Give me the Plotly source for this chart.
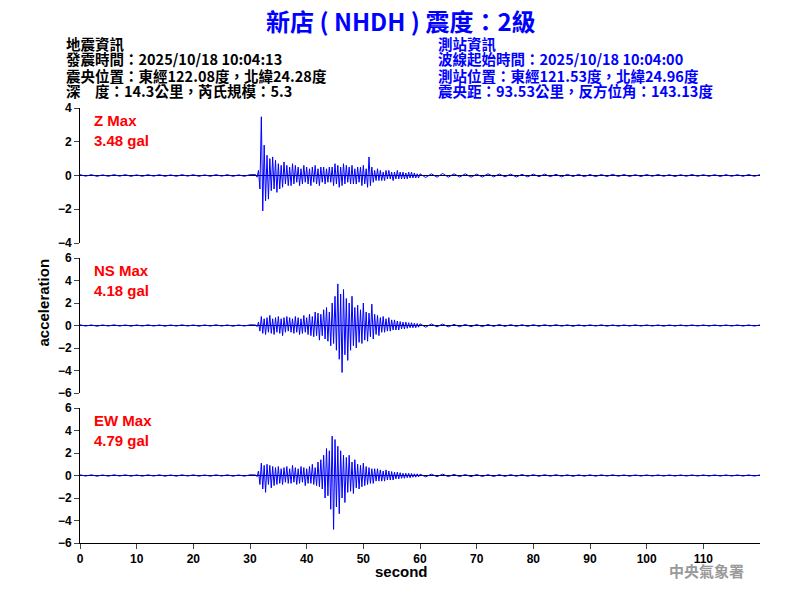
import numpy as np
import plotly.graph_objects as go

pre_z = [0.05,-0.04,0.05,-0.05,0.04,-0.05,0.05,-0.04,0.05,-0.05,0.04,-0.05,0.05,-0.04,0.05,-0.05,0.04,-0.05,0.05,-0.04,0.05,-0.05,0.04,-0.05,0.05,-0.04,0.05,-0.05,0.04,-0.05,0.05]
act_z = [0.05,-0.1,0.3,-0.8,3.48,-2.1,1.8,-1.5,1.2,-1.4,1.0,-0.9,1.1,-0.8,0.9,-1.0,0.7,-0.8,0.6,-0.7,0.8,-0.5,0.6,-0.6,0.5,-0.6,0.7,-0.5,0.6,-0.4,0.5,-0.6,0.4,-0.5,0.6,-0.4,0.5,-0.5,0.4,-0.6,0.5,-0.4,0.6,-0.5,0.4,-0.6,0.5,-0.4,0.5,-0.5,0.4,-0.4,0.5,-0.4,0.5,-0.6,0.7,-0.5,0.6,-0.7,0.5,-0.6,0.7,-0.5,0.6,-0.4,0.5,-0.5,0.6,-0.5,0.4,-0.5,0.5,-0.4,0.5,-0.6,0.6,-0.5,0.4,-0.7,1.1,-0.6,0.5,-0.4,0.3,-0.3,0.4,-0.3,0.3,-0.3,0.2,-0.3,0.3,-0.2,0.3,-0.2,0.2,-0.3,0.2,-0.2,0.3,-0.2,0.2,-0.2,0.2,-0.2,0.15,-0.2,0.2,-0.15,0.2,-0.15,0.15,-0.15,0.1,-0.15,0.1]
post_z = [-0.12,0.1,-0.1,0.12,-0.1,0.1,-0.09,0.1,-0.1,0.08,-0.09,0.1,-0.08,0.09,-0.08,0.08,-0.09,0.07,-0.08,0.08,-0.07,0.08,-0.07,0.07,-0.08,0.07,-0.06,0.07,-0.07,0.06,-0.07,0.06,-0.06,0.07,-0.06,0.06,-0.06,0.05,-0.06,0.06,-0.05,0.06,-0.05,0.05,-0.06,0.05,-0.05,0.06,-0.05,0.05,-0.05,0.05,-0.06,0.05,-0.05,0.05,-0.05,0.06,-0.05,0.05]

pre_ns = [0.06,-0.05,0.05,-0.06,0.05,-0.05,0.06,-0.05,0.05,-0.06,0.05,-0.05,0.06,-0.05,0.05,-0.06,0.05,-0.05,0.06,-0.05,0.05,-0.06,0.05,-0.05,0.06,-0.05,0.05,-0.06,0.05,-0.05,0.06]
act_ns = [0.05,-0.1,0.3,-0.5,0.8,-0.7,0.6,-0.8,0.7,-0.6,0.9,-0.7,0.6,-0.8,0.7,-0.6,0.8,-0.7,0.6,-0.9,0.7,-0.6,0.8,-0.5,0.7,-0.6,0.6,-0.7,0.8,-0.6,0.7,-0.8,0.6,-0.7,0.9,-0.6,0.7,-0.8,1.0,-0.9,0.8,-1.0,1.2,-0.9,1.1,-1.3,1.0,-0.9,1.4,-1.2,1.6,-1.4,1.2,-1.8,2.0,-1.6,2.6,-2.2,3.7,-3.0,2.8,-4.18,3.2,-2.6,2.4,-3.1,2.0,-2.2,2.6,-1.8,1.6,-2.0,1.8,-1.5,1.4,-1.6,2.0,-1.3,1.2,-1.4,1.1,-1.0,1.9,-1.2,1.0,-0.8,0.9,-0.9,0.7,-0.6,0.8,-0.6,0.6,-0.5,0.7,-0.5,0.5,-0.4,0.5,-0.4,0.4,-0.4,0.35,-0.3,0.3,-0.3,0.3,-0.25,0.25,-0.2,0.25,-0.2,0.2,-0.2,0.18,-0.15,0.15]
post_ns = [-0.15,0.14,-0.12,0.13,-0.12,0.1,-0.11,0.1,-0.1,0.09,-0.1,0.09,-0.08,0.09,-0.08,0.08,-0.08,0.07,-0.08,0.07,-0.07,0.07,-0.06,0.07,-0.06,0.06,-0.07,0.06,-0.06,0.06,-0.05,0.06,-0.06,0.05,-0.06,0.05,-0.05,0.06,-0.05,0.05,-0.05,0.05,-0.06,0.05,-0.05,0.05,-0.05,0.05,-0.05,0.05,-0.05,0.05,-0.05,0.05,-0.05,0.05,-0.05,0.05,-0.05,0.05]

pre_ew = [0.06,-0.05,0.06,-0.06,0.05,-0.06,0.06,-0.05,0.06,-0.06,0.05,-0.06,0.06,-0.05,0.06,-0.06,0.05,-0.06,0.06,-0.05,0.06,-0.06,0.05,-0.06,0.06,-0.05,0.06,-0.06,0.05,-0.06,0.06]
act_ew = [0.05,-0.1,0.4,-0.8,1.1,-1.2,0.9,-1.5,1.0,-0.8,0.9,-1.1,0.8,-0.9,0.7,-0.8,0.8,-0.7,0.6,-0.8,0.7,-0.6,0.8,-0.7,0.6,-0.7,0.9,-0.6,0.7,-0.8,0.6,-0.7,0.8,-0.6,0.7,-0.9,0.6,-0.7,0.8,-0.7,1.0,-0.8,0.7,-0.9,1.2,-1.0,1.4,-1.2,1.8,-2.0,2.4,-1.8,2.2,-3.0,3.5,-4.79,3.2,-2.8,2.6,-3.4,2.2,-2.0,1.8,-2.4,1.6,-1.5,1.8,-1.4,1.2,-1.6,1.4,-1.1,1.0,-1.2,0.9,-1.0,1.1,-0.9,0.8,-0.8,0.7,-0.7,0.6,-0.7,0.6,-0.5,0.6,-0.5,0.5,-0.5,0.4,-0.5,0.5,-0.4,0.4,-0.4,0.35,-0.4,0.3,-0.3,0.3,-0.3,0.25,-0.25,0.2,-0.25,0.2,-0.2,0.2,-0.2,0.18,-0.15,0.15,-0.15,0.15,-0.12,0.12]
post_ew = [-0.12,0.12,-0.1,0.12,-0.1,0.1,-0.1,0.09,-0.1,0.09,-0.09,0.08,-0.09,0.08,-0.08,0.08,-0.07,0.08,-0.07,0.07,-0.07,0.07,-0.06,0.07,-0.06,0.06,-0.07,0.06,-0.06,0.06,-0.06,0.06,-0.05,0.06,-0.05,0.05,-0.06,0.05,-0.05,0.05,-0.05,0.05,-0.05,0.05,-0.05,0.05,-0.05,0.05,-0.05,0.05,-0.05,0.05,-0.05,0.05,-0.05,0.05,-0.05,0.05,-0.05,0.05]

channels = ["Z", "NS", "EW"]
max_vals = [3.48, 4.18, 4.79]
y_ranges = [4, 6, 6]
x_ticks = list(range(0, 120, 10))
data = [(pre_z, act_z, post_z), (pre_ns, act_ns, post_ns), (pre_ew, act_ew, post_ew)]
left_info = ["地震資訊", "發震時間：2025/10/18 10:04:13", "震央位置：東經122.08度，北緯24.28度", "深　度：14.3公里，芮氏規模：5.3"]
right_info = ["測站資訊", "波線起始時間：2025/10/18 10:04:00", "測站位置：東經121.53度，北緯24.96度", "震央距：93.53公里，反方位角：143.13度"]

def series(pre, act, post):
    t = np.concatenate([np.arange(len(pre)) * 1.0, 31 + 0.25 * np.arange(len(act)), 61 + np.arange(len(post)) * 1.0])
    return t, np.array(pre + act + post)

# page has an 8px body margin; convert screen pixels to paper coords
def px(x): return (x - 8) / 800
def py(y): return 1 - (y - 8) / 600

fig = go.Figure()
panel_px = [(108, 243), (258, 393), (408, 543)]
fnt = dict(family="Liberation Sans, Arial", size=12, color="black", weight="bold")
for i, (ch, mv, yr, d) in enumerate(zip(channels, max_vals, y_ranges, data)):
    t, v = series(*d)
    n = "" if i == 0 else str(i + 1)
    top, bot = panel_px[i]
    fig.add_trace(go.Scatter(x=t, y=v, mode="lines", line=dict(color="blue", width=1), xaxis="x" + n, yaxis="y" + n, showlegend=False))
    fig.add_shape(type="line", x0=0, x1=120, y0=0, y1=0, xref="x" + n, yref="y" + n, line=dict(color="black", width=1), layer="below")
    fig.update_layout(**{
        "xaxis" + n: dict(domain=[px(80), px(760)], range=[0, 120], anchor="y" + n, showgrid=False, zeroline=False, automargin=False,
                          showticklabels=(i == 2), showline=(i == 2), linecolor="black", ticks="outside" if i == 2 else "",
                          tickvals=x_ticks, tickfont=fnt, matches="x" if i else None),
        "yaxis" + n: dict(domain=[py(bot), py(top)], range=[-yr, yr], dtick=2, anchor="x" + n, showgrid=False, zeroline=False,
                          automargin=False, showline=True, linecolor="black", ticks="outside", tickfont=fnt),
    })
    fig.add_annotation(x=px(92), y=py(top + 2), xref="paper", yref="paper", xanchor="left", yanchor="top", align="left",
                       text=f"<b>{ch} Max<br>{mv} gal</b>", showarrow=False, font=dict(family="Liberation Sans, Arial", size=15, color="red"))

cjk = "Noto Sans CJK TC"
fig.add_annotation(x=px(401), y=py(20), xref="paper", yref="paper", yanchor="middle", showarrow=False,
                   text="<b>新店 ( NHDH ) 震度：2級</b>", font=dict(family=cjk, size=24, color="blue"))
for k, (lt, rt) in enumerate(zip(left_info, right_info)):
    yy = py(43 + 16 * k)
    fig.add_annotation(x=px(64), y=yy, xref="paper", yref="paper", xanchor="left", yanchor="middle", showarrow=False,
                       text=lt, font=dict(family=cjk, size=14.5, color="black", weight="bold"))
    fig.add_annotation(x=px(436), y=yy, xref="paper", yref="paper", xanchor="left", yanchor="middle", showarrow=False,
                       text=rt, font=dict(family=cjk, size=14.5, color="blue", weight="bold"))
fig.add_annotation(x=px(32), y=py(303), xref="paper", yref="paper", textangle=-90, showarrow=False,
                   text="<b>acceleration</b>", font=dict(family="Liberation Sans, Arial", size=15, color="black"))
fig.add_annotation(x=px(401), y=py(582), xref="paper", yref="paper", showarrow=False,
                   text="<b>second</b>", font=dict(family="Liberation Sans, Arial", size=15, color="black"))
fig.add_annotation(x=px(746), y=py(583), xref="paper", yref="paper", xanchor="right", showarrow=False,
                   text="<b>中央氣象署</b>", font=dict(family=cjk, size=15, color="#999999"))

fig.update_layout(width=800, height=600, margin=dict(l=0, r=0, t=0, b=0), plot_bgcolor="white", paper_bgcolor="white")
fig.write_html("out.html")
